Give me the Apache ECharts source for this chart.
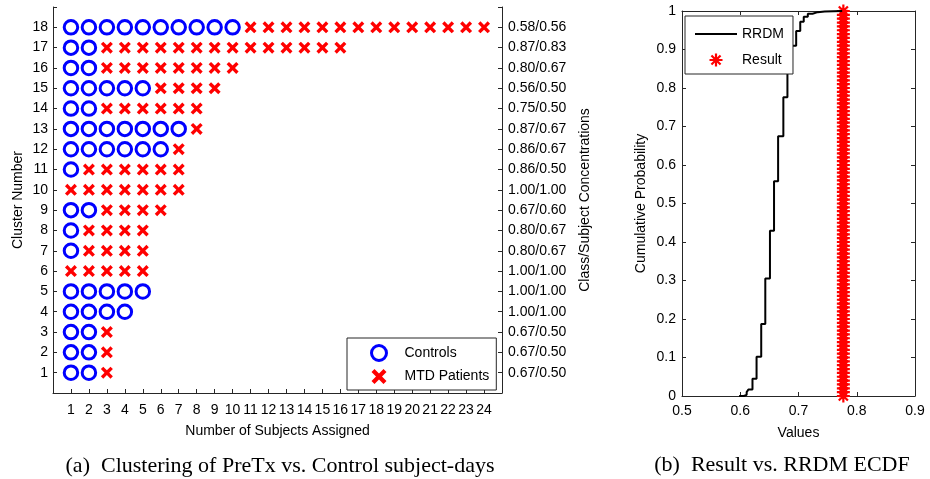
<!DOCTYPE html>
<html>
<head>
<meta charset="utf-8">
<script src="https://cdn.jsdelivr.net/npm/echarts@6/dist/echarts.min.js"></script>
<style>
  html, body { margin: 0; padding: 0; background: #fff; }
  #chart { width: 930px; height: 479px; }
</style>
</head>
<body>
<div id="chart"></div>
<script>
// (a) cluster membership, cluster 1..18
const clusters = [1, 2, 3, 4, 5, 6, 7, 8, 9, 10, 11, 12, 13, 14, 15, 16, 17, 18];
const nControls = [2, 2, 2, 4, 5, 0, 1, 1, 2, 0, 1, 6, 7, 2, 5, 2, 2, 10];
const nPatients = [1, 1, 1, 0, 0, 5, 4, 4, 4, 7, 6, 1, 1, 6, 4, 8, 14, 14];
const concLabels = [
  "0.67/0.50", "0.67/0.50", "0.67/0.50", "1.00/1.00", "1.00/1.00", "1.00/1.00",
  "0.80/0.67", "0.80/0.67", "0.67/0.60", "1.00/1.00", "0.86/0.50", "0.86/0.67",
  "0.87/0.67", "0.75/0.50", "0.56/0.50", "0.80/0.67", "0.87/0.83", "0.58/0.56"
];

// (b) RRDM ECDF (step points) and the result value
const ecdfX = [0.598, 0.606, 0.611, 0.614, 0.621, 0.628, 0.636, 0.643, 0.651, 0.658,
  0.665, 0.674, 0.681, 0.688, 0.696, 0.703, 0.709, 0.716, 0.724, 0.733, 0.745, 0.775];
const ecdfY = [0, 0.003, 0.010, 0.017, 0.045, 0.102, 0.187, 0.305, 0.429, 0.558,
  0.675, 0.776, 0.851, 0.910, 0.948, 0.972, 0.985, 0.993, 0.997, 0.999, 1, 1];
const resultX = 0.777;
const resultY = [0, 0.01, 0.02, 0.03, 0.04, 0.05, 0.06, 0.07, 0.08, 0.09,
  0.1, 0.11, 0.12, 0.13, 0.14, 0.15, 0.16, 0.17, 0.18, 0.19,
  0.2, 0.21, 0.22, 0.23, 0.24, 0.25, 0.26, 0.27, 0.28, 0.29,
  0.3, 0.31, 0.32, 0.33, 0.34, 0.35, 0.36, 0.37, 0.38, 0.39,
  0.4, 0.41, 0.42, 0.43, 0.44, 0.45, 0.46, 0.47, 0.48, 0.49,
  0.5, 0.51, 0.52, 0.53, 0.54, 0.55, 0.56, 0.57, 0.58, 0.59,
  0.6, 0.61, 0.62, 0.63, 0.64, 0.65, 0.66, 0.67, 0.68, 0.69,
  0.7, 0.71, 0.72, 0.73, 0.74, 0.75, 0.76, 0.77, 0.78, 0.79,
  0.8, 0.81, 0.82, 0.83, 0.84, 0.85, 0.86, 0.87, 0.88, 0.89,
  0.9, 0.91, 0.92, 0.93, 0.94, 0.95, 0.96, 0.97, 0.98, 0.99, 1];

const FONT = "Liberation Sans, Arial, sans-serif";
const SERIF = "22px 'Liberation Serif', 'DejaVu Serif', serif";
const AXIS = "#262626";
const BLUE = "#0000ff";
const RED = "#ff0000";

const crossPath = "path://M2,0 L5,3 L8,0 L10,2 L7,5 L10,8 L8,10 L5,7 L2,10 L0,8 L3,5 L0,2 Z";
const starPath = "path://M8.3,0 L11.7,0 L11.7,20 L8.3,20 Z M0,8.3 L20,8.3 L20,11.7 L0,11.7 Z " +
  "M1.8,4.2 L4.2,1.8 L18.2,15.8 L15.8,18.2 Z M15.8,1.8 L18.2,4.2 L4.2,18.2 L1.8,15.8 Z";
const linePath = "path://M0,0 L42,0 L42,2 L0,2 Z";

// build marker positions from the counts
const controlPts = [];
const patientPts = [];
clusters.forEach((c, i) => {
  for (let k = 1; k <= nControls[i]; k++) controlPts.push([k, c]);
  for (let k = 1; k <= nPatients[i]; k++) patientPts.push([nControls[i] + k, c]);
});
const ecdfPts = ecdfX.map((x, i) => [x, ecdfY[i]]);
const resultPts = resultY.map((y) => [resultX, y]);

const fmt1 = (v) => String(+v.toFixed(1));

const tickStyle = { show: true, inside: true, length: 4, lineStyle: { color: AXIS } };
const lineStyle = { show: true, onZero: false, lineStyle: { color: AXIS, width: 1 } };
const labelStyle = { color: "#000", fontSize: 14, fontFamily: FONT };
const nameStyle = { color: "#000", fontSize: 14, fontFamily: FONT };

const chart = echarts.init(document.getElementById("chart"));

chart.setOption({
  animation: false,
  grid: [
    { left: 53, top: 7, width: 449, height: 386 },
    { left: 682, top: 11, width: 233, height: 385 }
  ],
  xAxis: [
    {
      gridIndex: 0, type: "value", min: 0, max: 25, interval: 1,
      axisLine: lineStyle, axisTick: tickStyle, splitLine: { show: false },
      axisLabel: { ...labelStyle, margin: 10, formatter: (v) => (v >= 1 && v <= 24 ? v : "") },
      name: "Number of Subjects Assigned", nameLocation: "middle", nameGap: 31, nameTextStyle: nameStyle
    },
    {
      gridIndex: 1, type: "value", min: 0.5, max: 0.9, interval: 0.1,
      axisLine: lineStyle, axisTick: tickStyle, splitLine: { show: false },
      axisLabel: { ...labelStyle, margin: 8, formatter: fmt1 },
      name: "Values", nameLocation: "middle", nameGap: 30, nameTextStyle: nameStyle
    },
    {
      gridIndex: 1, type: "value", position: "top", min: 0.5, max: 0.9, interval: 0.1,
      axisLine: lineStyle, axisTick: tickStyle, splitLine: { show: false },
      axisLabel: { show: false }
    }
  ],
  yAxis: [
    {
      gridIndex: 0, type: "value", min: 0, max: 19, interval: 1,
      axisLine: lineStyle, axisTick: tickStyle, splitLine: { show: false },
      axisLabel: { ...labelStyle, margin: 5, formatter: (v) => (v >= 1 && v <= 18 ? v : "") },
      name: "Cluster Number", nameLocation: "middle", nameGap: 28, nameTextStyle: nameStyle
    },
    {
      gridIndex: 0, type: "value", position: "right", min: 0, max: 19, interval: 1,
      axisLine: lineStyle, axisTick: tickStyle, splitLine: { show: false },
      axisLabel: { ...labelStyle, margin: 6, formatter: (v) => concLabels[v - 1] || "" },
      name: "Class/Subject Concentrations", nameLocation: "middle", nameGap: 76,
      nameRotate: 90, nameTextStyle: nameStyle
    },
    {
      gridIndex: 1, type: "value", min: 0, max: 1, interval: 0.1,
      axisLine: lineStyle, axisTick: tickStyle, splitLine: { show: false },
      axisLabel: { ...labelStyle, margin: 6, formatter: fmt1 },
      name: "Cumulative Probability", nameLocation: "middle", nameGap: 34, nameTextStyle: nameStyle
    },
    {
      gridIndex: 1, type: "value", position: "right", min: 0, max: 1, interval: 0.1,
      axisLine: lineStyle, axisTick: tickStyle, splitLine: { show: false },
      axisLabel: { show: false }
    }
  ],
  legend: [
    {
      left: 347, top: 338, orient: "vertical",
      itemWidth: 15, itemHeight: 15, itemGap: 7,
      padding: [6, 7, 6, 23],
      borderColor: AXIS, borderWidth: 1, borderRadius: 0, backgroundColor: "#fff",
      textStyle: { color: "#000", fontSize: 14, fontFamily: FONT, padding: [0, 0, 0, 13] },
      data: [
        { name: "Controls", icon: "circle", itemStyle: { color: "transparent", borderColor: BLUE, borderWidth: 3 } },
        { name: "MTD Patients", icon: crossPath, itemStyle: { color: RED } }
      ]
    },
    {
      left: 685, top: 16, orient: "vertical",
      itemWidth: 42, itemHeight: 13, itemGap: 12,
      padding: [11, 9, 7, 10],
      borderColor: AXIS, borderWidth: 1, borderRadius: 0, backgroundColor: "#fff",
      textStyle: { color: "#000", fontSize: 14, fontFamily: FONT },
      data: [
        { name: "RRDM", icon: linePath, itemStyle: { color: "#000" } },
        { name: "Result", icon: starPath, itemStyle: { color: RED } }
      ]
    }
  ],
  series: [
    {
      name: "Controls", type: "scatter", xAxisIndex: 0, yAxisIndex: 0,
      symbol: "circle", symbolSize: 13.5,
      itemStyle: { color: "transparent", borderColor: BLUE, borderWidth: 3, opacity: 1 },
      data: controlPts
    },
    {
      name: "MTD Patients", type: "scatter", xAxisIndex: 0, yAxisIndex: 0,
      symbol: crossPath, symbolSize: 12,
      itemStyle: { color: RED, opacity: 1 },
      data: patientPts
    },
    {
      name: "RRDM", type: "line", xAxisIndex: 1, yAxisIndex: 2,
      step: "end", symbol: "none",
      lineStyle: { color: "#000", width: 2 },
      itemStyle: { color: "#000" },
      data: ecdfPts
    },
    {
      name: "Result", type: "scatter", xAxisIndex: 1, yAxisIndex: 2,
      symbol: starPath, symbolSize: 13,
      itemStyle: { color: RED, opacity: 1 },
      data: resultPts
    }
  ],
  graphic: [
    {
      type: "text", x: 280, y: 466,
      style: {
        text: "(a)  Clustering of PreTx vs. Control subject-days",
        fill: "#000", font: SERIF,
        textAlign: "center", textVerticalAlign: "middle"
      }
    },
    {
      type: "text", x: 782, y: 465,
      style: {
        text: "(b)  Result vs. RRDM ECDF",
        fill: "#000", font: SERIF,
        textAlign: "center", textVerticalAlign: "middle"
      }
    }
  ]
});
</script>
</body>
</html>
